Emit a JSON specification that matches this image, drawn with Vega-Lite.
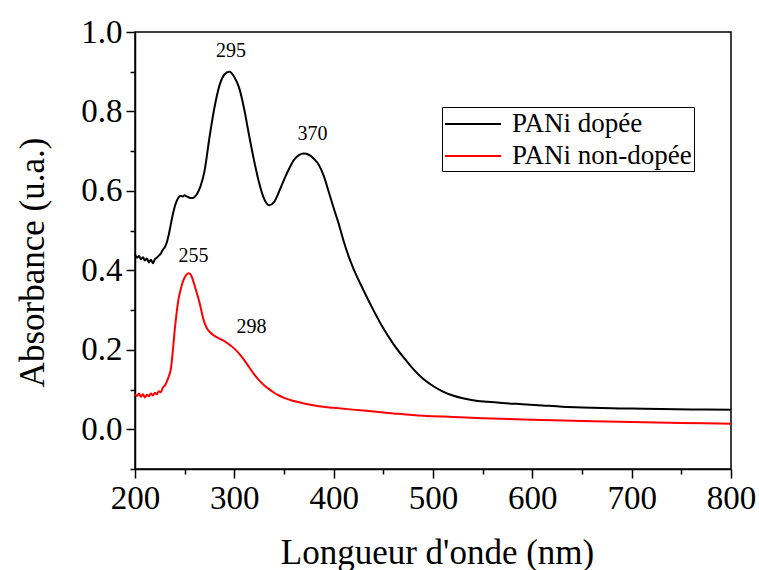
{
  "$schema": "https://vega.github.io/schema/vega-lite/v6.json",
  "width": 596,
  "height": 437,
  "autosize": {"type": "none"},
  "padding": {"left": 135, "top": 32, "right": 28, "bottom": 101},
  "background": "white",
  "config": {"view": {"stroke": "black", "strokeWidth": 1.5}, "font": "Liberation Serif"},
  "resolve": {"axis": {"x": "independent", "y": "independent"}},
  "datasets": {
    "curves": [
      {"wl": 200, "A": 0.440, "s": "PANi dopée"},
      {"wl": 202, "A": 0.432, "s": "PANi dopée"},
      {"wl": 204, "A": 0.436, "s": "PANi dopée"},
      {"wl": 206, "A": 0.428, "s": "PANi dopée"},
      {"wl": 208, "A": 0.433, "s": "PANi dopée"},
      {"wl": 210, "A": 0.425, "s": "PANi dopée"},
      {"wl": 212, "A": 0.430, "s": "PANi dopée"},
      {"wl": 214, "A": 0.420, "s": "PANi dopée"},
      {"wl": 216, "A": 0.427, "s": "PANi dopée"},
      {"wl": 218, "A": 0.418, "s": "PANi dopée"},
      {"wl": 220, "A": 0.428, "s": "PANi dopée"},
      {"wl": 222, "A": 0.432, "s": "PANi dopée"},
      {"wl": 224, "A": 0.437, "s": "PANi dopée"},
      {"wl": 226, "A": 0.442, "s": "PANi dopée"},
      {"wl": 228, "A": 0.452, "s": "PANi dopée"},
      {"wl": 230, "A": 0.458, "s": "PANi dopée"},
      {"wl": 232, "A": 0.470, "s": "PANi dopée"},
      {"wl": 234, "A": 0.490, "s": "PANi dopée"},
      {"wl": 236, "A": 0.515, "s": "PANi dopée"},
      {"wl": 238, "A": 0.540, "s": "PANi dopée"},
      {"wl": 240, "A": 0.560, "s": "PANi dopée"},
      {"wl": 242, "A": 0.575, "s": "PANi dopée"},
      {"wl": 244, "A": 0.584, "s": "PANi dopée"},
      {"wl": 246, "A": 0.588, "s": "PANi dopée"},
      {"wl": 248, "A": 0.586, "s": "PANi dopée"},
      {"wl": 250, "A": 0.589, "s": "PANi dopée"},
      {"wl": 252, "A": 0.586, "s": "PANi dopée"},
      {"wl": 254, "A": 0.584, "s": "PANi dopée"},
      {"wl": 256, "A": 0.582, "s": "PANi dopée"},
      {"wl": 258, "A": 0.582, "s": "PANi dopée"},
      {"wl": 260, "A": 0.585, "s": "PANi dopée"},
      {"wl": 263, "A": 0.595, "s": "PANi dopée"},
      {"wl": 266, "A": 0.612, "s": "PANi dopée"},
      {"wl": 270, "A": 0.650, "s": "PANi dopée"},
      {"wl": 275, "A": 0.735, "s": "PANi dopée"},
      {"wl": 280, "A": 0.810, "s": "PANi dopée"},
      {"wl": 285, "A": 0.865, "s": "PANi dopée"},
      {"wl": 290, "A": 0.893, "s": "PANi dopée"},
      {"wl": 295, "A": 0.900, "s": "PANi dopée"},
      {"wl": 300, "A": 0.887, "s": "PANi dopée"},
      {"wl": 305, "A": 0.858, "s": "PANi dopée"},
      {"wl": 310, "A": 0.805, "s": "PANi dopée"},
      {"wl": 315, "A": 0.738, "s": "PANi dopée"},
      {"wl": 320, "A": 0.675, "s": "PANi dopée"},
      {"wl": 325, "A": 0.620, "s": "PANi dopée"},
      {"wl": 330, "A": 0.580, "s": "PANi dopée"},
      {"wl": 335, "A": 0.564, "s": "PANi dopée"},
      {"wl": 340, "A": 0.572, "s": "PANi dopée"},
      {"wl": 345, "A": 0.598, "s": "PANi dopée"},
      {"wl": 350, "A": 0.628, "s": "PANi dopée"},
      {"wl": 355, "A": 0.655, "s": "PANi dopée"},
      {"wl": 360, "A": 0.678, "s": "PANi dopée"},
      {"wl": 365, "A": 0.690, "s": "PANi dopée"},
      {"wl": 370, "A": 0.694, "s": "PANi dopée"},
      {"wl": 375, "A": 0.691, "s": "PANi dopée"},
      {"wl": 380, "A": 0.681, "s": "PANi dopée"},
      {"wl": 385, "A": 0.666, "s": "PANi dopée"},
      {"wl": 390, "A": 0.638, "s": "PANi dopée"},
      {"wl": 395, "A": 0.598, "s": "PANi dopée"},
      {"wl": 400, "A": 0.557, "s": "PANi dopée"},
      {"wl": 405, "A": 0.518, "s": "PANi dopée"},
      {"wl": 410, "A": 0.474, "s": "PANi dopée"},
      {"wl": 415, "A": 0.436, "s": "PANi dopée"},
      {"wl": 420, "A": 0.404, "s": "PANi dopée"},
      {"wl": 425, "A": 0.376, "s": "PANi dopée"},
      {"wl": 430, "A": 0.350, "s": "PANi dopée"},
      {"wl": 440, "A": 0.300, "s": "PANi dopée"},
      {"wl": 450, "A": 0.254, "s": "PANi dopée"},
      {"wl": 460, "A": 0.215, "s": "PANi dopée"},
      {"wl": 470, "A": 0.182, "s": "PANi dopée"},
      {"wl": 480, "A": 0.152, "s": "PANi dopée"},
      {"wl": 490, "A": 0.127, "s": "PANi dopée"},
      {"wl": 500, "A": 0.109, "s": "PANi dopée"},
      {"wl": 510, "A": 0.095, "s": "PANi dopée"},
      {"wl": 520, "A": 0.085, "s": "PANi dopée"},
      {"wl": 530, "A": 0.078, "s": "PANi dopée"},
      {"wl": 540, "A": 0.073, "s": "PANi dopée"},
      {"wl": 555, "A": 0.069, "s": "PANi dopée"},
      {"wl": 570, "A": 0.066, "s": "PANi dopée"},
      {"wl": 590, "A": 0.063, "s": "PANi dopée"},
      {"wl": 610, "A": 0.060, "s": "PANi dopée"},
      {"wl": 630, "A": 0.057, "s": "PANi dopée"},
      {"wl": 650, "A": 0.055, "s": "PANi dopée"},
      {"wl": 680, "A": 0.053, "s": "PANi dopée"},
      {"wl": 700, "A": 0.052, "s": "PANi dopée"},
      {"wl": 730, "A": 0.051, "s": "PANi dopée"},
      {"wl": 760, "A": 0.050, "s": "PANi dopée"},
      {"wl": 800, "A": 0.049, "s": "PANi dopée"},
      {"wl": 200, "A": 0.088, "s": "PANi non-dopée"},
      {"wl": 202, "A": 0.084, "s": "PANi non-dopée"},
      {"wl": 204, "A": 0.090, "s": "PANi non-dopée"},
      {"wl": 206, "A": 0.082, "s": "PANi non-dopée"},
      {"wl": 208, "A": 0.088, "s": "PANi non-dopée"},
      {"wl": 210, "A": 0.080, "s": "PANi non-dopée"},
      {"wl": 212, "A": 0.087, "s": "PANi non-dopée"},
      {"wl": 214, "A": 0.083, "s": "PANi non-dopée"},
      {"wl": 216, "A": 0.090, "s": "PANi non-dopée"},
      {"wl": 218, "A": 0.085, "s": "PANi non-dopée"},
      {"wl": 220, "A": 0.092, "s": "PANi non-dopée"},
      {"wl": 222, "A": 0.088, "s": "PANi non-dopée"},
      {"wl": 224, "A": 0.096, "s": "PANi non-dopée"},
      {"wl": 226, "A": 0.093, "s": "PANi non-dopée"},
      {"wl": 228, "A": 0.105, "s": "PANi non-dopée"},
      {"wl": 230, "A": 0.110, "s": "PANi non-dopée"},
      {"wl": 232, "A": 0.120, "s": "PANi non-dopée"},
      {"wl": 234, "A": 0.133, "s": "PANi non-dopée"},
      {"wl": 236, "A": 0.150, "s": "PANi non-dopée"},
      {"wl": 238, "A": 0.195, "s": "PANi non-dopée"},
      {"wl": 240, "A": 0.250, "s": "PANi non-dopée"},
      {"wl": 242, "A": 0.295, "s": "PANi non-dopée"},
      {"wl": 244, "A": 0.330, "s": "PANi non-dopée"},
      {"wl": 246, "A": 0.352, "s": "PANi non-dopée"},
      {"wl": 248, "A": 0.370, "s": "PANi non-dopée"},
      {"wl": 250, "A": 0.382, "s": "PANi non-dopée"},
      {"wl": 252, "A": 0.390, "s": "PANi non-dopée"},
      {"wl": 254, "A": 0.393, "s": "PANi non-dopée"},
      {"wl": 256, "A": 0.390, "s": "PANi non-dopée"},
      {"wl": 258, "A": 0.378, "s": "PANi non-dopée"},
      {"wl": 260, "A": 0.362, "s": "PANi non-dopée"},
      {"wl": 262, "A": 0.345, "s": "PANi non-dopée"},
      {"wl": 264, "A": 0.328, "s": "PANi non-dopée"},
      {"wl": 266, "A": 0.308, "s": "PANi non-dopée"},
      {"wl": 268, "A": 0.285, "s": "PANi non-dopée"},
      {"wl": 270, "A": 0.268, "s": "PANi non-dopée"},
      {"wl": 273, "A": 0.252, "s": "PANi non-dopée"},
      {"wl": 276, "A": 0.243, "s": "PANi non-dopée"},
      {"wl": 280, "A": 0.235, "s": "PANi non-dopée"},
      {"wl": 285, "A": 0.228, "s": "PANi non-dopée"},
      {"wl": 290, "A": 0.222, "s": "PANi non-dopée"},
      {"wl": 295, "A": 0.213, "s": "PANi non-dopée"},
      {"wl": 300, "A": 0.203, "s": "PANi non-dopée"},
      {"wl": 305, "A": 0.190, "s": "PANi non-dopée"},
      {"wl": 310, "A": 0.174, "s": "PANi non-dopée"},
      {"wl": 315, "A": 0.156, "s": "PANi non-dopée"},
      {"wl": 320, "A": 0.138, "s": "PANi non-dopée"},
      {"wl": 325, "A": 0.123, "s": "PANi non-dopée"},
      {"wl": 330, "A": 0.111, "s": "PANi non-dopée"},
      {"wl": 335, "A": 0.101, "s": "PANi non-dopée"},
      {"wl": 340, "A": 0.092, "s": "PANi non-dopée"},
      {"wl": 345, "A": 0.085, "s": "PANi non-dopée"},
      {"wl": 350, "A": 0.079, "s": "PANi non-dopée"},
      {"wl": 360, "A": 0.071, "s": "PANi non-dopée"},
      {"wl": 370, "A": 0.065, "s": "PANi non-dopée"},
      {"wl": 385, "A": 0.058, "s": "PANi non-dopée"},
      {"wl": 400, "A": 0.054, "s": "PANi non-dopée"},
      {"wl": 430, "A": 0.047, "s": "PANi non-dopée"},
      {"wl": 460, "A": 0.040, "s": "PANi non-dopée"},
      {"wl": 490, "A": 0.034, "s": "PANi non-dopée"},
      {"wl": 520, "A": 0.031, "s": "PANi non-dopée"},
      {"wl": 550, "A": 0.028, "s": "PANi non-dopée"},
      {"wl": 600, "A": 0.024, "s": "PANi non-dopée"},
      {"wl": 650, "A": 0.021, "s": "PANi non-dopée"},
      {"wl": 700, "A": 0.018, "s": "PANi non-dopée"},
      {"wl": 750, "A": 0.016, "s": "PANi non-dopée"},
      {"wl": 800, "A": 0.014, "s": "PANi non-dopée"}
    ],
    "labels": [
      {"wl": 296.7, "A": 0.951, "t": "295"},
      {"wl": 378.7, "A": 0.742, "t": "370"},
      {"wl": 258.9, "A": 0.437, "t": "255"},
      {"wl": 317.2, "A": 0.257, "t": "298"}
    ]
  },
  "layer": [
    {
      "data": {"name": "curves"},
      "mark": {"type": "line", "strokeWidth": 2, "interpolate": "monotone"},
      "encoding": {
        "x": {
          "field": "wl", "type": "quantitative",
          "scale": {"domain": [200, 800], "nice": false, "zero": false},
          "axis": {
            "orient": "bottom",
            "values": [200, 300, 400, 500, 600, 700, 800],
            "title": "Longueur d'onde (nm)",
            "titleFont": "Liberation Serif", "titleFontSize": 35, "titleFontWeight": "normal", "titleColor": "black",
            "titleX": 302, "titleY": 94, "titleBaseline": "alphabetic", "titleAlign": "center",
            "labelFont": "Liberation Serif", "labelFontSize": 33, "labelColor": "black",
            "labelPadding": 4, "labelFlush": false, "labelOverlap": false,
            "tickSize": 9, "tickColor": "black", "tickWidth": 1.5,
            "domainColor": "black", "domainWidth": 1.5, "grid": false
          }
        },
        "y": {
          "field": "A", "type": "quantitative",
          "scale": {"domain": [-0.1, 1.0], "nice": false, "zero": false},
          "axis": {
            "orient": "left",
            "values": [0, 0.2, 0.4, 0.6, 0.8, 1.0],
            "format": ".1f",
            "title": "Absorbance (u.a.)",
            "titleFont": "Liberation Serif", "titleFontSize": 35, "titleFontWeight": "normal", "titleColor": "black",
            "titleX": -92, "titleY": 230, "titleBaseline": "alphabetic", "titleAlign": "center", "titleAngle": -90,
            "labelFont": "Liberation Serif", "labelFontSize": 33, "labelColor": "black",
            "labelPadding": 4, "labelFlush": false, "labelOverlap": false,
            "tickSize": 9, "tickColor": "black", "tickWidth": 1.5,
            "domainColor": "black", "domainWidth": 1.5, "grid": false
          }
        },
        "color": {
          "field": "s", "type": "nominal",
          "scale": {"domain": ["PANi dopée", "PANi non-dopée"], "range": ["#000000", "#ff0000"]},
          "legend": {
            "orient": "none", "legendX": 307, "legendY": 75, "title": null,
            "strokeColor": "black", "padding": 2,
            "symbolType": "M-1,0H3", "symbolSize": 784, "symbolStrokeWidth": 2,
            "labelFont": "Liberation Serif", "labelFontSize": 27, "labelColor": "black",
            "labelOffset": 38, "labelLimit": 400, "rowPadding": 4
          }
        }
      }
    },
    {
      "data": {"name": "labels"},
      "mark": {"type": "text", "font": "Liberation Serif", "fontSize": 20, "color": "black", "baseline": "middle", "align": "center"},
      "encoding": {
        "x": {
          "field": "wl", "type": "quantitative",
          "axis": {
            "orient": "bottom", "values": [250, 350, 450, 550, 650, 750],
            "labels": false, "title": null, "domain": false, "grid": false,
            "tickSize": 5, "tickColor": "black", "tickWidth": 1.5
          }
        },
        "y": {
          "field": "A", "type": "quantitative",
          "axis": {
            "orient": "left", "values": [-0.1, 0.1, 0.3, 0.5, 0.7, 0.9],
            "labels": false, "title": null, "domain": false, "grid": false,
            "tickSize": 5, "tickColor": "black", "tickWidth": 1.5
          }
        },
        "text": {"field": "t"}
      }
    }
  ]
}
